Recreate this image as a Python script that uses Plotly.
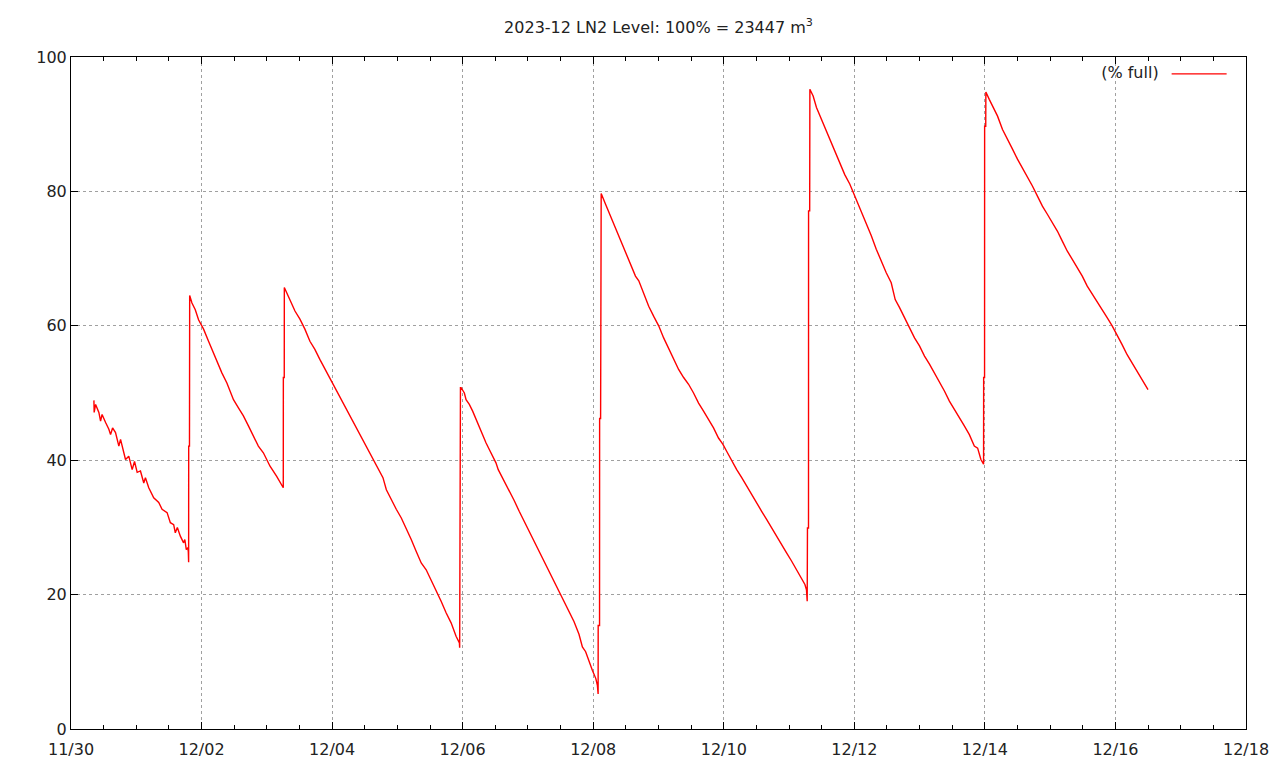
import pandas as pd
import plotly.graph_objects as go

# ---- data: time in days since 2023-11-30 00:00, level in % full ----
cycle1_days = [0.351, 0.355, 0.377, 0.427, 0.453, 0.476, 0.530, 0.580, 0.606, 0.637,
               0.682, 0.733, 0.759, 0.785, 0.835, 0.885, 0.937, 0.973, 1.014, 1.064,
               1.115, 1.140, 1.191, 1.267, 1.344, 1.395, 1.472, 1.522, 1.573, 1.598,
               1.629, 1.675, 1.725, 1.744, 1.766, 1.789, 1.797, 1.802]
cycle1_level = [48.9, 47.1, 48.3, 47.1, 45.8, 46.8, 45.6, 44.6, 43.8, 44.8,
                44.1, 42.1, 43.1, 41.9, 40.1, 40.6, 38.6, 39.8, 38.2, 38.4,
                36.6, 37.4, 35.9, 34.4, 33.7, 32.7, 32.2, 30.7, 30.4, 29.2,
                30.0, 28.7, 27.7, 28.2, 26.7, 27.0, 26.4, 24.8]
refill1_days = [1.803, 1.815, 1.816]
refill1_level = [42.1, 42.1, 64.5]

cycle2_days = [1.818, 1.853, 1.904, 1.954, 2.031, 2.107, 2.159, 2.235, 2.311, 2.388,
               2.489, 2.565, 2.641, 2.718, 2.794, 2.870, 2.947, 3.049, 3.151, 3.227, 3.252]
cycle2_level = [64.5, 63.4, 62.4, 60.9, 59.5, 57.7, 56.5, 54.7, 53.0, 51.5,
                49.0, 47.8, 46.6, 45.1, 43.6, 42.1, 41.1, 39.1, 37.6, 36.4, 35.9]
refill2_days = [3.253, 3.267, 3.268]
refill2_level = [52.3, 52.3, 65.7]

cycle3_days = [3.273, 3.354, 3.431, 3.507, 3.583, 3.660, 3.736, 3.812, 3.889, 3.965,
               4.092, 4.168, 4.244, 4.321, 4.397, 4.473, 4.550, 4.626, 4.702, 4.779,
               4.831, 4.907, 4.983, 5.060, 5.136, 5.212, 5.289, 5.365, 5.441, 5.518,
               5.594, 5.670, 5.746, 5.823, 5.899, 5.950, 5.954]
cycle3_level = [65.6, 63.9, 62.2, 61.0, 59.5, 57.7, 56.5, 55.0, 53.6, 52.3,
                50.0, 48.5, 47.1, 45.8, 44.3, 43.1, 41.6, 40.1, 38.9, 37.4,
                35.6, 34.1, 32.7, 31.4, 29.9, 28.2, 26.4, 24.7, 23.7, 22.2,
                20.5, 19.0, 17.3, 15.8, 13.8, 12.8, 12.1]
refill3_days = [5.955, 5.965, 5.966]
refill3_level = [26.4, 26.4, 50.8]

cycle4_days = [5.976, 6.026, 6.052, 6.102, 6.153, 6.205, 6.255, 6.305, 6.357, 6.408,
               6.458, 6.510, 6.545, 6.637, 6.713, 6.789, 6.866, 6.942, 7.018, 7.095,
               7.171, 7.247, 7.324, 7.400, 7.476, 7.553, 7.629, 7.705, 7.782, 7.834,
               7.884, 7.936, 7.988, 8.040, 8.064, 8.075]
cycle4_level = [50.8, 50.0, 49.0, 48.3, 47.3, 46.1, 44.8, 43.8, 42.6, 41.6,
                40.6, 39.6, 38.6, 36.9, 35.5, 34.0, 32.4, 30.9, 29.5, 27.9,
                26.5, 24.9, 23.5, 22.0, 20.5, 19.0, 17.5, 16.0, 14.1, 12.2,
                11.5, 10.0, 8.7, 7.5, 6.5, 5.2]
refill4_days = [8.076, 8.097, 8.098, 8.113, 8.114]
refill4_level = [15.4, 15.4, 46.2, 46.2, 77.0]

cycle5_days = [8.122, 8.189, 8.266, 8.342, 8.418, 8.495, 8.571, 8.647, 8.698, 8.774,
               8.850, 8.927, 9.003, 9.079, 9.156, 9.232, 9.308, 9.385, 9.461, 9.537,
               9.614, 9.690, 9.766, 9.843, 9.919, 9.985, 10.046, 10.122, 10.198, 10.275,
               10.351, 10.427, 10.504, 10.580, 10.656, 10.733, 10.809, 10.885, 10.962, 11.038,
               11.115, 11.191, 11.243, 11.267, 11.278]
cycle5_level = [79.7, 78.1, 76.3, 74.6, 72.6, 70.9, 69.1, 67.4, 66.7, 64.7,
                62.9, 61.4, 60.0, 58.2, 56.7, 55.0, 53.5, 52.3, 51.3, 50.0,
                48.5, 47.3, 46.1, 44.8, 43.3, 42.4, 41.3, 39.9, 38.6, 37.4,
                36.1, 34.9, 33.7, 32.4, 31.2, 29.9, 28.7, 27.4, 26.2, 25.0,
                23.7, 22.5, 21.5, 20.7, 19.0]
refill5_days = [11.282, 11.298, 11.299, 11.316]
refill5_level = [29.9, 29.9, 77.1, 77.1]

cycle6_days = [11.319, 11.369, 11.420, 11.496, 11.548, 11.624, 11.701, 11.777, 11.853, 11.930,
               11.969, 12.031, 12.107, 12.183, 12.260, 12.336, 12.412, 12.489, 12.565, 12.626,
               12.693, 12.769, 12.846, 12.922, 12.998, 13.075, 13.151, 13.227, 13.304, 13.380,
               13.456, 13.533, 13.609, 13.685, 13.762, 13.838, 13.889, 13.939, 13.980]
cycle6_level = [95.2, 94.2, 92.5, 90.7, 89.5, 87.8, 86.0, 84.3, 82.5, 81.1,
                80.2, 78.8, 77.1, 75.4, 73.4, 71.4, 69.6, 67.9, 66.4, 63.9,
                62.7, 61.2, 59.5, 58.2, 57.0, 55.5, 54.3, 53.0, 51.5, 50.3,
                48.8, 47.6, 46.3, 45.1, 43.8, 42.1, 41.8, 40.1, 39.4]
refill6_days = [13.981, 13.995, 13.996, 14.013]
refill6_level = [52.3, 52.3, 89.7, 89.7]

cycle7_days = [14.015, 14.067, 14.118, 14.194, 14.270, 14.347, 14.423, 14.499, 14.576, 14.652,
               14.728, 14.805, 14.881, 14.957, 15.034, 15.110, 15.186, 15.263, 15.339, 15.415,
               15.492, 15.568, 15.644, 15.721, 15.797, 15.873, 15.950, 16.026, 16.102, 16.179,
               16.255, 16.331, 16.408, 16.484, 16.499]
cycle7_level = [94.8, 93.7, 92.7, 91.2, 89.2, 87.8, 86.3, 84.8, 83.5, 82.1,
                80.8, 79.3, 77.8, 76.6, 75.4, 74.1, 72.6, 71.1, 69.9, 68.7,
                67.4, 65.9, 64.7, 63.4, 62.2, 61.2, 60.0, 58.7, 57.2, 55.7,
                54.5, 53.3, 52.0, 50.8, 50.5]

start_date = "2023-11-30"
x_range = ["2023-11-30", "2023-12-18"]
title_text = "2023-12 LN2 Level: 100% = 23447 m<sup>3</sup>"
legend_label = "(% full)"

days = (cycle1_days + refill1_days + cycle2_days + refill2_days + cycle3_days +
        refill3_days + cycle4_days + refill4_days + cycle5_days + refill5_days +
        cycle6_days + refill6_days + cycle7_days)
level = (cycle1_level + refill1_level + cycle2_level + refill2_level + cycle3_level +
         refill3_level + cycle4_level + refill4_level + cycle5_level + refill5_level +
         cycle6_level + refill6_level + cycle7_level)

times = pd.Timestamp(start_date) + pd.to_timedelta(days, unit="D")

FONT = "DejaVu Sans"
TXT = "#222222"
FS = 16

fig = go.Figure()
fig.add_trace(go.Scatter(
    x=times, y=level, mode="lines", name="",
    line=dict(color="#ff0000", width=1.4),
    showlegend=True,
))

axis_common = dict(
    showline=True, linecolor="black", linewidth=1, mirror="allticks",
    ticks="inside", tickcolor="black", automargin=False,
    showgrid=True, gridcolor="#a0a0a0", griddash="dot", gridwidth=1,
    zeroline=False,
    tickfont=dict(family=FONT, size=FS, color=TXT),
)

fig.update_xaxes(
    type="date", range=x_range, dtick=2 * 86400000, tick0="2023-11-30",
    tickformat="%m/%d", ticklen=7, ticklabelstandoff=6,
    minor=dict(dtick=43200000, ticks="inside", ticklen=4, tickcolor="black", showgrid=False),
    **axis_common,
)
fig.update_yaxes(range=[0, 100], dtick=20, ticklen=7, **axis_common)

fig.update_layout(
    width=1264, height=752,
    margin=dict(l=63, r=26, t=49, b=31, autoexpand=False),
    paper_bgcolor="white", plot_bgcolor="white",
    title=dict(text=title_text, x=0.5, xref="paper", xanchor="center",
               y=1 - 19 / 752, yanchor="middle",
               yref="container", font=dict(family=FONT, size=FS, color=TXT)),
    font=dict(family=FONT, size=FS, color=TXT),
    legend=dict(
        x=0.9925, y=1.0, xanchor="right", yanchor="top",
        bgcolor="rgba(0,0,0,0)", itemwidth=55,
        title=dict(text=legend_label, side="left", font=dict(family=FONT, size=FS, color=TXT)),
        font=dict(family=FONT, size=FS),
    ),
    showlegend=True,
)

fig.write_html("out.html")
